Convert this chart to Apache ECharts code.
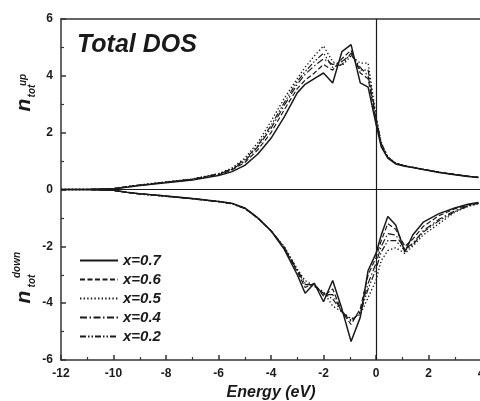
<!DOCTYPE html>
<html>
<head>
<meta charset="utf-8">
<script src="https://cdn.jsdelivr.net/npm/echarts@6/dist/echarts.min.js"></script>
<style>
  html, body { margin: 0; padding: 0; background: #fff; }
  #chart { width: 480px; height: 401px; }
</style>
</head>
<body>
<div id="chart"></div>
<script>
// Energy grid (eV) shared by every curve
const energy = [-12, -11, -10, -9.5, -9, -8, -7, -6, -5.5, -5, -4.5, -4, -3.5, -3, -2.7, -2.35, -2.0, -1.65, -1.3, -0.95, -0.6, -0.3, 0, 0.2, 0.45, 0.75, 1.1, 1.4, 1.8, 2.4, 3.0, 3.5, 3.9];

const seriesNames = ['x=0.7', 'x=0.6', 'x=0.5', 'x=0.4', 'x=0.2'];

// Spin-up total DOS
const up07 = [0, 0, 0.03, 0.08, 0.14, 0.24, 0.33, 0.49, 0.62, 0.85, 1.25, 1.8, 2.55, 3.4, 3.7, 3.9, 4.1, 3.75, 4.85, 5.1, 3.75, 3.6, 2.3, 1.5, 1.1, 0.9, 0.82, 0.77, 0.7, 0.6, 0.52, 0.46, 0.42];
const up06 = [0, 0, 0.03, 0.09, 0.15, 0.25, 0.35, 0.52, 0.68, 0.95, 1.4, 2.0, 2.8, 3.55, 3.85, 4.1, 4.4, 4.2, 4.6, 4.9, 4.1, 3.9, 2.4, 1.55, 1.12, 0.92, 0.83, 0.78, 0.71, 0.61, 0.53, 0.47, 0.43];
const up05 = [0, 0, 0.03, 0.1, 0.16, 0.27, 0.37, 0.56, 0.75, 1.1, 1.65, 2.4, 3.2, 3.9, 4.3, 4.7, 5.05, 4.5, 4.35, 4.7, 4.45, 4.45, 2.6, 1.65, 1.15, 0.93, 0.84, 0.78, 0.71, 0.61, 0.53, 0.47, 0.43];
const up04 = [0, 0, 0.03, 0.09, 0.15, 0.26, 0.36, 0.54, 0.7, 1.0, 1.5, 2.15, 2.95, 3.7, 4.05, 4.35, 4.6, 4.4, 4.5, 4.75, 4.3, 4.0, 2.5, 1.6, 1.13, 0.92, 0.83, 0.78, 0.71, 0.61, 0.53, 0.47, 0.43];
const up02 = [0, 0, 0.03, 0.1, 0.16, 0.26, 0.36, 0.55, 0.72, 1.05, 1.55, 2.25, 3.05, 3.8, 4.15, 4.5, 4.8, 4.3, 4.4, 4.8, 4.2, 4.2, 2.55, 1.62, 1.14, 0.92, 0.83, 0.78, 0.71, 0.61, 0.53, 0.47, 0.43];

// Spin-down total DOS
const dn07 = [0, 0, -0.03, -0.1, -0.15, -0.23, -0.32, -0.42, -0.48, -0.65, -1.0, -1.45, -2.1, -3.0, -3.65, -3.3, -3.95, -3.2, -4.2, -5.35, -4.5, -2.85, -2.25, -1.6, -0.95, -1.25, -2.2, -1.6, -1.15, -0.85, -0.65, -0.52, -0.46];
const dn06 = [0, 0, -0.03, -0.1, -0.15, -0.23, -0.32, -0.42, -0.49, -0.66, -1.0, -1.45, -2.05, -2.9, -3.45, -3.3, -3.75, -3.5, -4.3, -4.75, -4.2, -3.0, -2.4, -1.8, -1.2, -1.4, -2.0, -1.75, -1.3, -0.92, -0.68, -0.54, -0.47];
const dn05 = [0, 0, -0.03, -0.1, -0.16, -0.24, -0.33, -0.43, -0.5, -0.67, -1.02, -1.45, -2.0, -2.8, -3.2, -3.4, -3.6, -4.1, -4.3, -4.55, -4.4, -3.8, -3.2, -2.5, -2.15, -2.05, -2.25, -2.0, -1.6, -1.2, -0.8, -0.6, -0.5];
const dn04 = [0, 0, -0.03, -0.1, -0.15, -0.23, -0.32, -0.42, -0.49, -0.66, -1.0, -1.45, -2.05, -2.85, -3.35, -3.35, -3.7, -3.7, -4.3, -4.65, -4.3, -3.3, -2.6, -2.0, -1.55, -1.6, -2.1, -1.9, -1.45, -1.05, -0.75, -0.57, -0.48];
const dn02 = [0, 0, -0.03, -0.1, -0.16, -0.24, -0.33, -0.43, -0.5, -0.67, -1.01, -1.45, -2.02, -2.82, -3.3, -3.4, -3.65, -3.85, -4.3, -4.6, -4.35, -3.5, -2.8, -2.2, -1.8, -1.8, -2.15, -1.95, -1.5, -1.1, -0.78, -0.58, -0.49];

// Axis ticks
const xTicks = [-12, -10, -8, -6, -4, -2, 0, 2, 4];
const yTicks = [-6, -4, -2, 0, 2, 4, 6];

const dashStyles = ['solid', [5, 2.5], [1.4, 2.2], [7, 2.5, 1.5, 2.5], [6, 2, 1.5, 2, 1.5, 2]];
const lineWidths = [1.5, 1.2, 1.3, 1.2, 1.2];

const upSets = [up07, up06, up05, up04, up02];
const dnSets = [dn07, dn06, dn05, dn04, dn02];

const FONT = '"Liberation Sans", Arial, sans-serif';
const INK = '#1a1a1a';

function pairs(vals) {
  return energy.map((e, i) => [e, vals[i]]);
}

const series = [];
seriesNames.forEach((name, k) => {
  const ls = { color: INK, width: lineWidths[k], type: dashStyles[k] };
  series.push({
    name: name, type: 'line', data: pairs(upSets[k]), showSymbol: false, symbol: 'none',
    lineStyle: ls, itemStyle: { color: INK }, z: 3
  });
  series.push({
    name: name, type: 'line', data: pairs(dnSets[k]), showSymbol: false, symbol: 'none',
    lineStyle: ls, itemStyle: { color: INK }, z: 3
  });
});

// Zero reference lines
series[0].markLine = {
  silent: true, symbol: 'none', animation: false,
  label: { show: false },
  lineStyle: { color: INK, type: 'solid', width: 1.2 },
  data: [{ xAxis: 0 }, { yAxis: 0 }]
};

const axisLineStyle = { color: '#333', width: 1.5 };
const tickLabel = { color: INK, fontFamily: FONT, fontWeight: 'bold', fontSize: 12 };

const chart = echarts.init(document.getElementById('chart'), null, { renderer: 'canvas' });
chart.setOption({
  animation: false,
  backgroundColor: '#fff',
  grid: { left: 61, right: -1, top: 19, bottom: 41, outerBoundsMode: 'none', containLabel: false },
  xAxis: [{
    type: 'value', min: xTicks[0], max: xTicks[xTicks.length - 1], interval: 2,
    position: 'bottom',
    axisLine: { show: true, onZero: false, lineStyle: axisLineStyle },
    axisTick: { show: true, inside: true, length: 5, lineStyle: axisLineStyle },
    minorTick: { show: true, splitNumber: 2, length: 3, lineStyle: { color: '#333', width: 1.2 } },
    axisLabel: Object.assign({ margin: 8 }, tickLabel),
    splitLine: { show: false },
    name: 'Energy (eV)', nameLocation: 'middle', nameGap: 24,
    nameTextStyle: { color: INK, fontFamily: FONT, fontWeight: 'bold', fontStyle: 'italic', fontSize: 16 }
  }, {
    type: 'value', min: xTicks[0], max: xTicks[xTicks.length - 1], interval: 2,
    position: 'top',
    axisLine: { show: true, onZero: false, lineStyle: axisLineStyle },
    axisTick: { show: false }, axisLabel: { show: false }, splitLine: { show: false }
  }],
  yAxis: [{
    type: 'value', min: yTicks[0], max: yTicks[yTicks.length - 1], interval: 2,
    axisLine: { show: true, onZero: false, lineStyle: axisLineStyle },
    axisTick: { show: true, inside: true, length: 5, lineStyle: axisLineStyle },
    minorTick: { show: true, splitNumber: 2, length: 3, lineStyle: { color: '#333', width: 1.2 } },
    axisLabel: Object.assign({ margin: 8 }, tickLabel),
    splitLine: { show: false }
  }],
  legend: {
    show: true,
    orient: 'vertical', left: 79, top: 253, padding: 0,
    data: seriesNames,
    itemWidth: 38, itemHeight: 14, itemGap: 4,
    itemStyle: { opacity: 0 },
    textStyle: { color: INK, fontFamily: FONT, fontWeight: 'bold', fontStyle: 'italic', fontSize: 15, lineHeight: 14 },
    selectedMode: false
  },
  graphic: [
    {
      type: 'text', left: 77, top: 33,
      style: { text: 'Total DOS', fill: INK, font: 'italic bold 25px ' + FONT }
    },
    // n_tot^up
    { type: 'text', x: 24, y: 105, rotation: Math.PI / 2,
      style: { text: 'n', fill: INK, font: 'italic bold 21px ' + FONT, align: 'center', verticalAlign: 'middle' } },
    { type: 'text', x: 32, y: 91, rotation: Math.PI / 2,
      style: { text: 'tot', fill: INK, font: 'italic bold 10px ' + FONT, align: 'center', verticalAlign: 'middle' } },
    { type: 'text', x: 23, y: 80, rotation: Math.PI / 2,
      style: { text: 'up', fill: INK, font: 'italic bold 10px ' + FONT, align: 'center', verticalAlign: 'middle' } },
    // n_tot^down
    { type: 'text', x: 24, y: 297, rotation: Math.PI / 2,
      style: { text: 'n', fill: INK, font: 'italic bold 21px ' + FONT, align: 'center', verticalAlign: 'middle' } },
    { type: 'text', x: 32, y: 281, rotation: Math.PI / 2,
      style: { text: 'tot', fill: INK, font: 'italic bold 10px ' + FONT, align: 'center', verticalAlign: 'middle' } },
    { type: 'text', x: 17, y: 265, rotation: Math.PI / 2,
      style: { text: 'down', fill: INK, font: 'italic bold 10px ' + FONT, align: 'center', verticalAlign: 'middle' } }
  ],
  series: series
});
</script>
</body>
</html>
